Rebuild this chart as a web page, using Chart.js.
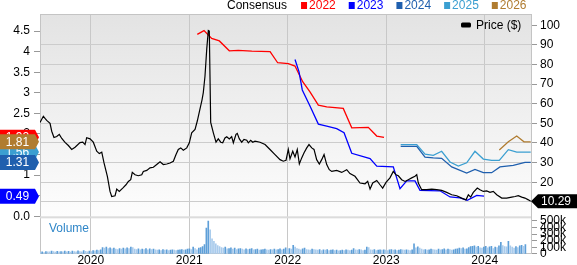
<!DOCTYPE html>
<html><head><meta charset="utf-8">
<script src="https://cdn.jsdelivr.net/npm/chart.js@4.4.0/dist/chart.umd.min.js"></script>
<style>html,body{margin:0;padding:0;background:#fff}canvas{display:block}</style>
</head><body>
<canvas id="c" width="577" height="265"></canvas>
<script>
// ---------- DATA ----------
const yearTicks = [2020, 2021, 2022, 2023, 2024];
const priceTicks = [10, 20, 30, 40, 50, 60, 70, 80, 90, 100];
const epsTicks = [0, 0.5, 1, 1.5, 2, 2.5, 3, 3.5, 4, 4.5];
const volumeTicks = [0, 100, 200, 300, 400, 500];            // thousands
const volumeTickLabels = ['0', '100k', '200k', '300k', '400k', '500k'];
const legendYears = ['2022', '2023', '2024', '2025', '2026'];

// price (decimal year, $)
const priceDates = [2019.485,2019.519,2019.536,2019.553,2019.587,2019.604,2019.627,2019.655,2019.681,2019.706,2019.739,2019.773,2019.807,2019.841,2019.891,2019.919,2019.942,2019.959,2019.993,
2020.026,2020.061,2020.087,2020.112,2020.135,2020.169,2020.196,2020.213,2020.247,2020.264,2020.290,2020.325,2020.358,2020.382,2020.406,2020.422,2020.450,2020.483,2020.518,2020.534,2020.569,2020.602,2020.636,2020.670,2020.704,2020.737,2020.772,2020.805,2020.839,2020.866,2020.889,2020.914,2020.940,2020.975,
2021.001,2021.025,2021.059,2021.082,2021.110,2021.130,2021.143,2021.160,2021.178,2021.194,2021.204,2021.218,2021.245,2021.272,2021.295,2021.320,2021.340,2021.363,2021.381,2021.407,2021.431,2021.448,2021.475,2021.488,2021.509,2021.533,2021.556,2021.584,2021.600,2021.624,2021.645,2021.668,2021.719,2021.770,2021.820,2021.871,2021.922,2021.955,2021.983,
2022.006,2022.023,2022.051,2022.074,2022.097,2022.118,2022.142,2022.166,2022.193,2022.216,2022.244,2022.267,2022.294,2022.321,2022.345,2022.369,2022.396,2022.422,2022.447,2022.497,2022.548,2022.599,2022.632,2022.683,2022.734,2022.785,2022.812,2022.836,2022.863,2022.904,2022.937,2022.964,2022.998,
2023.038,2023.072,2023.099,2023.123,2023.157,2023.191,2023.224,2023.259,2023.292,2023.310,2023.326,2023.360,2023.411,2023.462,2023.513,2023.563,2023.614,2023.665,2023.716,2023.766,2023.810,2023.834,2023.858,2023.884,2023.925,2023.952,2023.986,
2024.020,2024.054,2024.087,2024.122,2024.173,2024.223,2024.274,2024.308,2024.341,2024.376,2024.409,2024.443,2024.467];
const priceValues = [50.5,53.6,52.5,51.5,50.0,46.0,42.8,43.3,44.4,42.3,40.3,38.7,36.7,37.8,40.2,40.4,39.2,42.7,42.1,
40.4,35.8,34.6,35.3,29.8,23.0,15.3,12.7,13.1,16.5,15.3,17.0,18.7,20.4,21.3,25.0,23.8,23.3,23.8,25.5,26.0,27.3,27.6,29.0,30.4,29.0,29.3,29.8,30.7,34.1,36.7,37.5,36.3,37.5,
40.1,45.2,46.9,51.2,57.5,62.0,65.7,74.0,88.0,97.3,97.0,50.5,45.2,40.4,42.1,40.4,40.1,42.6,43.2,42.1,43.2,40.1,44.4,44.9,42.1,40.4,41.8,41.4,40.1,41.4,40.4,40.9,40.4,39.2,36.7,34.1,31.5,30.7,31.2,
36.7,31.9,35.8,32.9,36.7,29.3,32.4,35.0,37.5,39.2,37.5,36.7,31.5,29.3,31.5,34.1,29.0,26.4,25.5,26.0,25.0,26.4,24.4,23.0,19.6,19.2,20.4,16.5,19.6,20.9,18.7,17.0,19.9,
22.2,25.5,23.8,23.3,21.3,20.4,21.3,22.2,23.0,23.8,19.6,16.2,16.2,16.5,16.2,15.8,14.8,13.6,13.1,11.9,11.0,13.6,12.4,14.8,17.0,16.2,15.3,
15.6,14.8,15.3,13.6,11.9,11.9,12.4,12.7,13.1,12.4,11.9,11.0,10.29];

// consensus EPS estimates (decimal year, $ per share)
const eps2022Dates = [2021.082,2021.150,2021.228,2021.306,2021.407,2021.498,2021.635,2021.821,2021.898,2022.006,2022.074,2022.152,2022.226,2022.311,2022.396,2022.564,2022.650,2022.818,2022.904,2022.978];
const eps2022Values = [4.42,4.51,4.32,4.26,4.02,4.03,4.01,4.00,3.73,3.71,3.65,3.27,3.02,2.70,2.66,2.62,2.15,2.16,1.95,1.92];
const eps2023Dates = [2022.074,2022.115,2022.148,2022.226,2022.311,2022.396,2022.497,2022.572,2022.650,2022.836,2022.904,2023.072,2023.140,2023.208,2023.292,2023.343,2023.546,2023.648,2023.749,2023.823,2023.919,2023.993];
const eps2023Values = [3.81,3.51,3.07,2.68,2.24,2.19,2.13,2.03,1.53,1.40,1.22,1.20,0.67,0.86,0.86,0.63,0.62,0.47,0.45,0.39,0.51,0.49];
const eps2024Dates = [2023.147,2023.310,2023.394,2023.478,2023.563,2023.665,2023.817,2023.901,2023.986,2024.071,2024.155,2024.290,2024.409,2024.467];
const eps2024Values = [1.70,1.70,1.44,1.42,1.41,1.20,1.05,1.14,1.06,1.06,1.20,1.24,1.31,1.31];
const eps2025Dates = [2023.147,2023.310,2023.394,2023.478,2023.563,2023.648,2023.732,2023.817,2023.901,2023.986,2024.071,2024.148,2024.240,2024.325,2024.467];
const eps2025Values = [1.74,1.74,1.51,1.48,1.58,1.32,1.22,1.30,1.58,1.39,1.36,1.36,1.62,1.56,1.56];
const eps2026Dates = [2024.148,2024.240,2024.325,2024.399,2024.467];
const eps2026Values = [1.61,1.81,1.95,1.81,1.81];

// current consensus tags and last price
const tagValues = {'2022': 1.92, '2023': 0.49, '2024': 1.31, '2025': 1.56, '2026': 1.81};
const lastPrice = 10.29;

// weekly volume (thousands), first week starting mid-2019
const volumeStartDate = '2019-06-28';
const volumeValues = [
25,30,20,35,30,28,40,32,25,38,30,35,28,42,30,36,25,40,33,30,45,35,28,50,38,30,
40,35,48,45,55,50,60,
95,85,100,80,90,75,85,70,65,80,70,85,75,90,80,100,95,70,65,75,60,70,65,80,60,75,65,70,60,
55,60,50,65,55,60,48,55,62,58,50,55,60,65,58,60,
70,75,65,100,80,60,85,95,
110,140,390,495,365,227,190,150,125,110,
95,85,100,75,80,90,70,85,65,75,80,70,60,75,65,70,80,60,65,70,55,60,65,70,60,55,65,60,70,60,65,75,60,70,
90,75,80,70,130,100,80,70,60,75,85,65,60,55,70,65,60,55,65,50,60,55,65,50,55,60,
50,55,45,50,55,50,60,55,50,55,80,60,55,65,60,50,55,100,95,60,55,65,50,55,60,55,
60,55,50,60,65,55,60,50,55,65,60,55,60,55,50,60,150,90,105,85,70,60,65,55,60,70,
65,60,55,70,60,65,75,60,70,65,55,60,70,75,85,80,90,70,75,95,110,115,120,100,115,90,
85,100,115,90,105,115,80,100,95,120,175,125,110,105,190,120,100,85,110,95,120,130,115,140];

// ---------- STYLE / LAYOUT ----------
const FONT = '"Liberation Sans", Arial, sans-serif';
const COL = {'2022':'#ff0000','2023':'#0000ff','2024':'#1f5fae','2025':'#3b9fd1','2026':'#b07c30'};
const X_MIN = 2019.485, X_MAX = 2024.47;
const EPS_MIN = -0.91, EPS_MAX = 4.914;
const P_MIN = -16.51, P_MAX = 105.78;
const V_MIN = 0, V_MAX = 3636;

function toYear(dateStr){
  const d = new Date(dateStr + 'T00:00:00Z');
  const y = d.getUTCFullYear();
  const s = Date.UTC(y,0,1), e = Date.UTC(y+1,0,1);
  return y + (d.getTime()-s)/(e-s);
}
const pts = (xs, ys) => xs.map((x,i)=>({x, y: ys[i]}));
const v0 = toYear(volumeStartDate);
const volumePts = volumeValues.map((v,i)=>({x: v0 + i*7/365.25, y: v}));

Chart.defaults.font.family = FONT;
Chart.defaults.font.size = 12;
Chart.defaults.color = '#000';

const bgPlugin = {
  id:'bg',
  beforeDraw(chart){
    const {ctx, chartArea:a} = chart;
    const sepY = chart.scales.yEps.getPixelForValue(0);
    ctx.save();
    const g = ctx.createLinearGradient(0, a.top, 0, sepY);
    g.addColorStop(0, '#e3e3e3');
    g.addColorStop(1, '#fdfdfd');
    ctx.fillStyle = g;
    ctx.fillRect(a.left, a.top, a.right-a.left, sepY-a.top);
    ctx.restore();
  },
  beforeDatasetsDraw(chart){
    const {ctx, chartArea:a} = chart;
    const sepY = chart.scales.yEps.getPixelForValue(0);
    ctx.save();
    ctx.fillStyle = '#dcdcdc';
    ctx.fillRect(a.left, sepY, a.right-a.left, 2);
    ctx.strokeStyle = '#c4c4c4';
    ctx.lineWidth = 1;
    ctx.beginPath();
    ctx.moveTo(a.left, a.top+0.5); ctx.lineTo(a.right, a.top+0.5);
    ctx.stroke();
    ctx.restore();
  },
  afterDraw(chart){
    const {ctx, chartArea:a} = chart;
    const ys = chart.scales.yEps, yp = chart.scales.yPrice;
    ctx.save();
    ctx.font = '12px ' + FONT;
    ctx.textBaseline = 'middle';
    // top legend
    let cx = 227;
    ctx.fillStyle = '#000'; ctx.textAlign = 'left';
    ctx.fillText('Consensus', cx, 6);
    cx += ctx.measureText('Consensus').width + 14;
    legendYears.forEach(y=>{
      ctx.fillStyle = COL[y];
      ctx.fillRect(cx, 2, 6, 7);
      ctx.fillText(y, cx+8, 6);
      cx += 8 + ctx.measureText(y).width + 13;
    });
    // price legend inside plot
    ctx.fillStyle = '#000';
    ctx.beginPath();
    ctx.roundRect(461, 22.5, 10, 5, 1.5);
    ctx.fill();
    ctx.fillText('Price ($)', 476, 25.5);
    // Volume label
    ctx.fillStyle = '#2f86c8';
    ctx.fillText('Volume', 49, 229);
    // left tags
    ['2022','2025','2026','2024','2023'].forEach(k=>{
      const y = ys.getPixelForValue(tagValues[k]);
      ctx.fillStyle = COL[k];
      ctx.beginPath();
      ctx.moveTo(0, y-7.5); ctx.lineTo(35, y-7.5); ctx.lineTo(39, y);
      ctx.lineTo(35, y+7.5); ctx.lineTo(0, y+7.5); ctx.closePath();
      ctx.fill();
      ctx.fillStyle = '#fff'; ctx.textAlign = 'center';
      ctx.fillText(tagValues[k].toFixed(2), 17.5, y+0.5);
    });
    // right price tag
    const py = yp.getPixelForValue(lastPrice);
    ctx.fillStyle = '#000';
    ctx.beginPath();
    ctx.moveTo(a.right, py); ctx.lineTo(a.right+7, py-7); ctx.lineTo(577, py-7);
    ctx.lineTo(577, py+7); ctx.lineTo(a.right+7, py+7); ctx.closePath();
    ctx.fill();
    ctx.fillStyle = '#fff'; ctx.textAlign = 'left';
    ctx.fillText(lastPrice.toFixed(2), 541, py+0.5);
    ctx.restore();
  }
};

const lineDs = (label, xs, ys, color, axis, w) => ({
  type:'line', label, data: pts(xs, ys), borderColor: color, backgroundColor: color,
  borderWidth: w, pointRadius: 0, tension: 0, fill: false, yAxisID: axis, xAxisID: 'x'
});

new Chart(document.getElementById('c'), {
  data: {
    datasets: [
      lineDs('Price ($)', priceDates, priceValues, '#000', 'yPrice', 1.2),
      lineDs('2023', eps2023Dates, eps2023Values, COL['2023'], 'yEps', 1.3),
      lineDs('2022', eps2022Dates, eps2022Values, COL['2022'], 'yEps', 1.3),
      lineDs('2024', eps2024Dates, eps2024Values, COL['2024'], 'yEps', 1.3),
      lineDs('2025', eps2025Dates, eps2025Values, COL['2025'], 'yEps', 1.3),
      lineDs('2026', eps2026Dates, eps2026Values, COL['2026'], 'yEps', 1.3),
      {
        type:'bar', label:'Volume', data: volumePts, yAxisID:'yVol', xAxisID:'x',
        barThickness: 1, grouped: false,
        backgroundColor: ctx => {
          const i = ctx.dataIndex;
          return (i > 0 && volumeValues[i] > volumeValues[i-1]) ? '#5e9fd8' : '#a9cbec';
        }
      }
    ]
  },
  options: {
    responsive: false, animation: false, devicePixelRatio: 1,
    layout: { padding: { top: 14, left: 0, right: 0, bottom: 0 } },
    plugins: { legend: { display: false }, tooltip: { enabled: false } },
    scales: {
      x: {
        type: 'linear', position: 'bottom', min: X_MIN, max: X_MAX, offset: false,
        afterBuildTicks: s => { s.ticks = yearTicks.map(v=>({value:v})); },
        afterFit: s => { s.height = 11; },
        ticks: { callback: v => String(v), padding: 0, maxRotation: 0, autoSkip: false, font: { size: 12 } },
        grid: { color: '#c8c8c8', drawTicks: false, lineWidth: 1, offset: false },
        border: { color: '#c4c4c4' }
      },
      yEps: {
        type: 'linear', position: 'left', min: EPS_MIN, max: EPS_MAX,
        afterBuildTicks: s => { s.ticks = epsTicks.map(v=>({value:v})); },
        afterFit: s => { s.width = 40; },
        ticks: { callback: v => v === 0 ? '0.0' : String(v), padding: 4, autoSkip: false },
        grid: { drawOnChartArea: false, tickLength: 6, tickColor: '#999' },
        border: { color: '#c4c4c4' }
      },
      yPrice: {
        type: 'linear', position: 'right', min: P_MIN, max: P_MAX,
        afterBuildTicks: s => {
          const t = priceTicks.map(v=>({value:v}));
          volumeTicks.forEach((v,i)=>{
            const f = (v - V_MIN)/(V_MAX - V_MIN);
            t.push({value: P_MIN + f*(P_MAX - P_MIN), vol: volumeTickLabels[i]});
          });
          s.ticks = t;
        },
        afterFit: s => { s.width = 46; },
        ticks: {
          callback: (v, i, ticks) => (ticks[i] && ticks[i].vol !== undefined) ? ticks[i].vol : String(v),
          padding: 3, autoSkip: false
        },
        grid: {
          color: c => (c.tick && c.tick.vol === undefined && c.tick.value >= 10 && c.tick.value <= 90) ? '#cccccc' : 'rgba(0,0,0,0)',
          tickColor: '#999', tickLength: 6
        },
        border: { color: '#c4c4c4' }
      },
      yVol: {
        type: 'linear', display: false, min: V_MIN, max: V_MAX
      }
    }
  },
  plugins: [bgPlugin]
});
</script>
</body></html>
